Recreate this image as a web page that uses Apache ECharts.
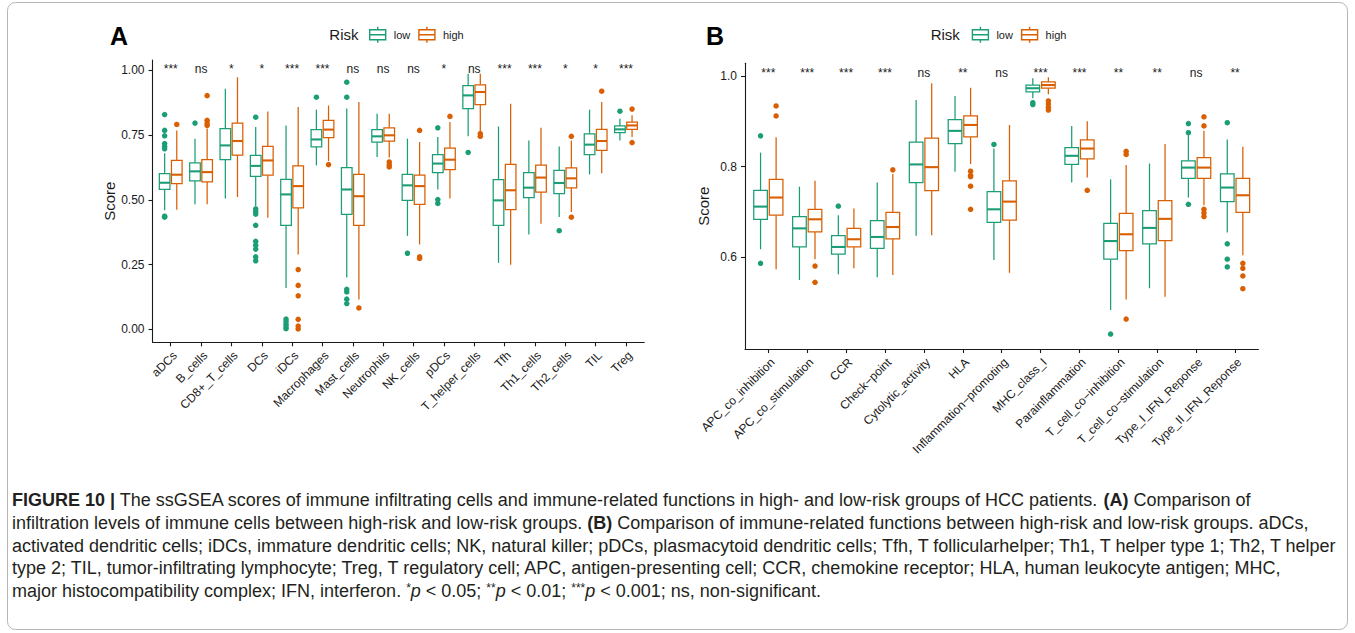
<!DOCTYPE html>
<html>
<head>
<meta charset="utf-8">
<script src="https://cdn.jsdelivr.net/npm/echarts@6/dist/echarts.min.js"></script>
<style>
  html, body { margin: 0; padding: 0; background: #ffffff; }
  #chart { width: 1355px; height: 633px; }
</style>
</head>
<body>
<div id="chart"></div>
<script>
// ---------- Panel A: immune infiltrating cells ----------
const cellTypes = ['aDCs', 'B_cells', 'CD8+_T_cells', 'DCs', 'iDCs', 'Macrophages', 'Mast_cells',
  'Neutrophils', 'NK_cells', 'pDCs', 'T_helper_cells', 'Tfh', 'Th1_cells', 'Th2_cells', 'TIL', 'Treg'];

// box statistics per category: [lower whisker, Q1, median, Q3, upper whisker]
const cellLowStats = [
  [0.460, 0.540, 0.566, 0.601, 0.680],
  [0.483, 0.573, 0.610, 0.643, 0.736],
  [0.505, 0.655, 0.710, 0.775, 0.929],
  [0.475, 0.591, 0.631, 0.672, 0.781],
  [0.160, 0.402, 0.521, 0.579, 0.787],
  [0.633, 0.704, 0.733, 0.771, 0.848],
  [0.200, 0.444, 0.540, 0.624, 0.852],
  [0.665, 0.723, 0.745, 0.771, 0.832],
  [0.361, 0.498, 0.556, 0.598, 0.736],
  [0.540, 0.605, 0.640, 0.674, 0.742],
  [0.745, 0.852, 0.903, 0.941, 0.986],
  [0.257, 0.402, 0.498, 0.578, 0.783],
  [0.366, 0.509, 0.547, 0.605, 0.729],
  [0.434, 0.524, 0.565, 0.614, 0.706],
  [0.598, 0.674, 0.713, 0.755, 0.848],
  [0.729, 0.759, 0.772, 0.785, 0.813]
];
const cellHighStats = [
  [0.462, 0.563, 0.597, 0.652, 0.768],
  [0.483, 0.569, 0.607, 0.655, 0.775],
  [0.511, 0.673, 0.727, 0.796, 0.973],
  [0.431, 0.595, 0.652, 0.706, 0.841],
  [0.289, 0.469, 0.553, 0.631, 0.858],
  [0.650, 0.740, 0.771, 0.807, 0.864],
  [0.116, 0.402, 0.514, 0.598, 0.877],
  [0.663, 0.727, 0.749, 0.778, 0.832],
  [0.328, 0.483, 0.553, 0.595, 0.723],
  [0.505, 0.617, 0.655, 0.700, 0.800],
  [0.761, 0.867, 0.916, 0.944, 0.986],
  [0.250, 0.462, 0.537, 0.637, 0.871],
  [0.408, 0.530, 0.586, 0.634, 0.778],
  [0.453, 0.546, 0.583, 0.623, 0.729],
  [0.603, 0.691, 0.727, 0.772, 0.877],
  [0.742, 0.772, 0.787, 0.800, 0.826]
];
const cellLowOutliers = [
  [0.829, 0.768, 0.747, 0.717, 0.706, 0.697, 0.437, 0.433],
  [0.796],
  [],
  [0.819, 0.465, 0.455, 0.445, 0.402, 0.340, 0.325, 0.310, 0.280, 0.265],
  [0.040, 0.030, 0.020, 0.010, 0.003],
  [0.896],
  [0.954, 0.896, 0.155, 0.145, 0.117, 0.100],
  [],
  [0.294],
  [0.778, 0.501, 0.486],
  [0.683],
  [],
  [],
  [0.381],
  [],
  [0.842]
];
const cellHighOutliers = [
  [0.791],
  [0.902, 0.807, 0.796, 0.787],
  [],
  [],
  [0.231, 0.170, 0.130, 0.039, 0.013, 0.002],
  [0.636],
  [0.083],
  [0.646, 0.635, 0.627],
  [0.768, 0.280, 0.274],
  [0.822],
  [0.755, 0.745],
  [],
  [],
  [0.745, 0.433],
  [0.919],
  [0.850, 0.721]
];
const cellSignif = ['***', 'ns', '*', '*', '***', '***', 'ns', 'ns', 'ns', '*', 'ns', '***', '***', '*', '*', '***'];
const cellTicks = [0, 0.25, 0.5, 0.75, 1.0];

// ---------- Panel B: immune-related functions ----------
const functionTypes = ['APC_co_inhibition', 'APC_co_stimulation', 'CCR', 'Check\u2212point', 'Cytolytic_activity',
  'HLA', 'Inflammation\u2212promoting', 'MHC_class_I', 'Parainflammation', 'T_cell_co\u2212inhibition',
  'T_cell_co\u2212stimulation', 'Type_I_IFN_Reponse', 'Type_II_IFN_Reponse'];

const funcLowStats = [
  [0.618, 0.684, 0.712, 0.748, 0.831],
  [0.550, 0.623, 0.664, 0.690, 0.756],
  [0.563, 0.607, 0.623, 0.648, 0.693],
  [0.556, 0.620, 0.645, 0.681, 0.765],
  [0.648, 0.765, 0.805, 0.854, 0.947],
  [0.789, 0.851, 0.879, 0.904, 0.956],
  [0.594, 0.677, 0.706, 0.745, 0.840],
  [0.951, 0.965, 0.973, 0.980, 0.995],
  [0.765, 0.805, 0.824, 0.842, 0.890],
  [0.484, 0.596, 0.636, 0.675, 0.772],
  [0.532, 0.630, 0.665, 0.703, 0.807],
  [0.732, 0.774, 0.798, 0.813, 0.870],
  [0.655, 0.723, 0.754, 0.784, 0.860]
];
const funcHighStats = [
  [0.574, 0.693, 0.732, 0.772, 0.865],
  [0.596, 0.656, 0.684, 0.706, 0.769],
  [0.576, 0.623, 0.640, 0.664, 0.708],
  [0.561, 0.641, 0.667, 0.699, 0.784],
  [0.649, 0.747, 0.799, 0.863, 0.984],
  [0.806, 0.866, 0.892, 0.912, 0.974],
  [0.566, 0.682, 0.723, 0.769, 0.892],
  [0.960, 0.973, 0.980, 0.987, 0.997],
  [0.776, 0.817, 0.840, 0.859, 0.900],
  [0.507, 0.615, 0.651, 0.697, 0.804],
  [0.513, 0.637, 0.685, 0.725, 0.850],
  [0.715, 0.774, 0.798, 0.820, 0.879],
  [0.605, 0.699, 0.737, 0.774, 0.844]
];
const funcLowOutliers = [
  [0.868, 0.587],
  [],
  [0.713],
  [],
  [],
  [],
  [0.849],
  [0.941, 0.937],
  [],
  [0.431],
  [],
  [0.895, 0.875, 0.717],
  [0.897, 0.630, 0.596, 0.579]
];
const funcHighOutliers = [
  [0.934, 0.912],
  [0.581, 0.545],
  [],
  [0.793],
  [],
  [0.790, 0.781, 0.778, 0.757, 0.706],
  [],
  [0.945, 0.938, 0.931, 0.925],
  [0.748],
  [0.834, 0.827, 0.464],
  [],
  [0.910, 0.890, 0.706, 0.698, 0.690],
  [0.587, 0.576, 0.559, 0.531]
];
const funcSignif = ['***', '***', '***', '***', 'ns', '**', 'ns', '***', '***', '**', '**', 'ns', '**'];
const funcTicks = [0.6, 0.8, 1.0];

const groups = ['low', 'high'];

// ---------- styling ----------
const FONT = '"Liberation Sans", Arial, Helvetica, sans-serif';
const COLORS = { low: '#1B9E77', high: '#D95F02' };
const INK = '#1a1a1a';
const DODGE = 0.2;      // half of the dodge distance between the two boxes
const BOX_W = 0.35;     // box width in category units

const chart = echarts.init(document.getElementById('chart'), null, { renderer: 'svg' });

function boxSeries(name, axisIdx, stats, offset) {
  const color = COLORS[name];
  return {
    type: 'custom',
    name: name,
    xAxisIndex: axisIdx,
    yAxisIndex: axisIdx,
    itemStyle: { color: color },
    data: stats.map((s, i) => [i].concat(s)),
    encode: { x: 0, y: [1, 2, 3, 4, 5] },
    z: 3,
    silent: true,
    renderItem: function (params, api) {
      const x = api.value(0) + offset;
      const lo = api.coord([x, api.value(1)]);
      const q1 = api.coord([x, api.value(2)]);
      const md = api.coord([x, api.value(3)]);
      const q3 = api.coord([x, api.value(4)]);
      const hi = api.coord([x, api.value(5)]);
      const w = api.size([BOX_W, 0])[0];
      const cx = md[0];
      const line = { stroke: color, lineWidth: 1.25 };
      return {
        type: 'group',
        children: [
          { type: 'line', shape: { x1: cx, y1: hi[1], x2: cx, y2: q3[1] }, style: line },
          { type: 'line', shape: { x1: cx, y1: q1[1], x2: cx, y2: lo[1] }, style: line },
          { type: 'rect', shape: { x: cx - w / 2, y: q3[1], width: w, height: q1[1] - q3[1] },
            style: { stroke: color, lineWidth: 1.25, fill: '#ffffff' } },
          { type: 'line', shape: { x1: cx - w / 2, y1: md[1], x2: cx + w / 2, y2: md[1] },
            style: { stroke: color, lineWidth: 2.1 } }
        ]
      };
    }
  };
}

function outlierSeries(name, axisIdx, outliers, offset) {
  const pts = [];
  outliers.forEach((arr, i) => arr.forEach(v => pts.push([i + offset, v])));
  return {
    type: 'scatter',
    name: name,
    xAxisIndex: axisIdx,
    yAxisIndex: axisIdx,
    data: pts,
    symbol: 'circle',
    symbolSize: 5.5,
    itemStyle: { color: COLORS[name], opacity: 1 },
    z: 2,
    silent: true
  };
}

function signifSeries(axisIdx, labels, yAnchor) {
  return {
    type: 'custom',
    xAxisIndex: axisIdx,
    yAxisIndex: axisIdx,
    data: labels.map((s, i) => [i, yAnchor, s]),
    z: 4,
    silent: true,
    renderItem: function (params, api) {
      const p = api.coord([api.value(0), api.value(1)]);
      return {
        type: 'text',
        x: p[0],
        y: p[1],
        style: {
          text: labels[params.dataIndex],
          textAlign: 'center',
          textVerticalAlign: 'middle',
          fontSize: 12,
          fontFamily: FONT,
          fill: INK
        }
      };
    }
  };
}

function categoryXAxis(gridIdx, names) {
  const idx = names.map((_, i) => i);
  return {
    type: 'value',
    gridIndex: gridIdx,
    min: -0.6,
    max: names.length - 0.4,
    splitLine: { show: false },
    axisLine: { show: true, onZero: false, lineStyle: { color: INK, width: 1.1 } },
    axisTick: { show: true, length: 4, customValues: idx, lineStyle: { color: INK, width: 1.1 } },
    axisLabel: {
      customValues: idx,
      rotate: 45,
      align: 'right',
      verticalAlign: 'top',
      margin: 7,
      fontSize: 12,
      fontFamily: FONT,
      color: INK,
      formatter: v => names[Math.round(v)]
    }
  };
}

function scoreYAxis(gridIdx, min, max, ticks, digits) {
  return {
    type: 'value',
    gridIndex: gridIdx,
    min: min,
    max: max,
    name: 'Score',
    nameLocation: 'middle',
    nameRotate: 90,
    nameGap: 34,
    nameTextStyle: { fontSize: 15, fontFamily: FONT, color: INK },
    splitLine: { show: false },
    axisLine: { show: true, onZero: false, lineStyle: { color: INK, width: 1.1 } },
    axisTick: { show: true, length: 4, customValues: ticks, lineStyle: { color: INK, width: 1.1 } },
    axisLabel: {
      customValues: ticks,
      margin: 8,
      fontSize: 12,
      fontFamily: FONT,
      color: INK,
      formatter: v => v.toFixed(digits)
    }
  };
}

// legend glyph: box with median and whisker stubs
const BOX_ICON = 'path://M0,3L16,3L16,13L0,13Z M0,8L16,8 M8,0L8,3 M8,13L8,16';
const legendData = groups.map(g => ({
  name: g,
  icon: BOX_ICON,
  itemStyle: { color: '#ffffff', borderColor: COLORS[g], borderWidth: 1.4 }
}));
function legendAt(left) {
  return {
    left: left,
    top: 26,
    padding: 0,
    orient: 'horizontal',
    itemWidth: 16,
    itemHeight: 16,
    itemGap: 8,
    selectedMode: false,
    data: legendData,
    textStyle: { fontSize: 11, fontFamily: FONT, color: INK, padding: [0, 0, 0, 3] }
  };
}

const captionLines = [
  '{b|FIGURE 10 |} The ssGSEA scores of immune infiltrating cells and immune-related functions in high- and low-risk groups of HCC patients. {b|(A)} Comparison of',
  'infiltration levels of immune cells between high-risk and low-risk groups. {b|(B)} Comparison of immune-related functions between high-risk and low-risk groups. aDCs,',
  'activated dendritic cells; iDCs, immature dendritic cells; NK, natural killer; pDCs, plasmacytoid dendritic cells; Tfh, T follicularhelper; Th1, T helper type 1; Th2, T helper',
  'type 2; TIL, tumor-infiltrating lymphocyte; Treg, T regulatory cell; APC, antigen-presenting cell; CCR, chemokine receptor; HLA, human leukocyte antigen; MHC,',
  'major histocompatibility complex; IFN, interferon. {sup|*}{i|p} < 0.05; {sup|**}{i|p} < 0.01; {sup|***}{i|p} < 0.001; ns, non-significant.'
];
const CAP_SIZE = 18;
const CAP_INK = '#231f20';
const capRich = {
  b: { fontSize: CAP_SIZE, fontFamily: FONT, fontWeight: 'bold', fill: CAP_INK },
  i: { fontSize: CAP_SIZE, fontFamily: FONT, fontStyle: 'italic', fill: CAP_INK },
  sup: { fontSize: 12, fontFamily: FONT, fill: CAP_INK, verticalAlign: 'top' }
};
const captionGraphics = captionLines.map((t, k) => ({
  type: 'text',
  x: 12,
  y: 500 + k * 22.8,
  style: {
    text: t,
    rich: capRich,
    fontSize: CAP_SIZE,
    fontFamily: FONT,
    fill: CAP_INK,
    textAlign: 'left',
    textVerticalAlign: 'middle'
  }
}));

function riskTitle(x) {
  return { type: 'text', x: x, y: 34,
    style: { text: 'Risk', fontSize: 15, fontFamily: FONT, fill: INK, textAlign: 'left', textVerticalAlign: 'middle' } };
}
function panelTag(x, tag) {
  return { type: 'text', x: x, y: 36,
    style: { text: tag, fontSize: 25, fontWeight: 'bold', fontFamily: FONT, fill: '#000000', textAlign: 'left', textVerticalAlign: 'middle' } };
}

const option = {
  backgroundColor: '#ffffff',
  animation: false,
  textStyle: { fontFamily: FONT },
  grid: [
    { left: 152.5, top: 60, width: 491.7, height: 282.3, containLabel: false },
    { left: 745, top: 63.3, width: 513.4, height: 285.7, containLabel: false }
  ],
  xAxis: [categoryXAxis(0, cellTypes), categoryXAxis(1, functionTypes)],
  yAxis: [
    scoreYAxis(0, -0.0495, 1.0395, cellTicks, 2),
    scoreYAxis(1, 0.398, 1.028, funcTicks, 1)
  ],
  legend: [legendAt(369), legendAt(971.7)],
  series: [
    outlierSeries('low', 0, cellLowOutliers, -DODGE),
    outlierSeries('high', 0, cellHighOutliers, DODGE),
    boxSeries('low', 0, cellLowStats, -DODGE),
    boxSeries('high', 0, cellHighStats, DODGE),
    signifSeries(0, cellSignif, 1.003),
    outlierSeries('low', 1, funcLowOutliers, -DODGE),
    outlierSeries('high', 1, funcHighOutliers, DODGE),
    boxSeries('low', 1, funcLowStats, -DODGE),
    boxSeries('high', 1, funcHighStats, DODGE),
    signifSeries(1, funcSignif, 1.007)
  ],
  graphic: [
    { type: 'rect', shape: { x: 7.5, y: 2.5, width: 1340, height: 627, r: 8 },
      style: { fill: 'none', stroke: '#b5b5b5', lineWidth: 1 }, silent: true },
    panelTag(110, 'A'),
    panelTag(706, 'B'),
    riskTitle(329.3),
    riskTitle(930.7)
  ].concat(captionGraphics)
};

chart.setOption(option);
</script>
</body>
</html>
